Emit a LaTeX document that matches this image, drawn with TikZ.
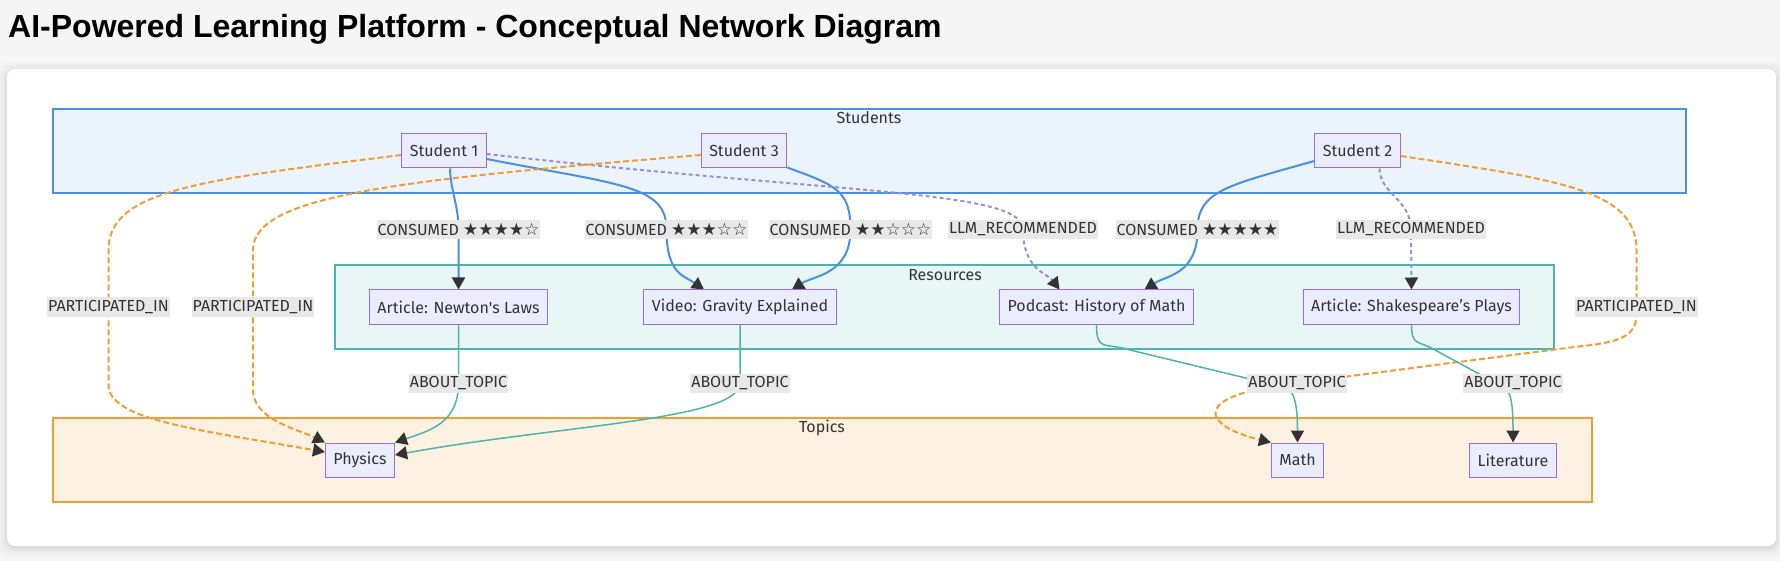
\documentclass[tikz,border=0pt]{standalone}
\usepackage{fontspec}
\setmainfont{Fira Sans}
\newfontfamily\titlefont{Liberation Sans}
\newfontfamily\starfont{DejaVu Sans}
\usetikzlibrary{calc,arrows.meta}

\definecolor{pageGray}{HTML}{F5F5F5}
\definecolor{stuBlue}{HTML}{4A90E2}
\definecolor{stuFill}{HTML}{EBF3FD}
\definecolor{resTeal}{HTML}{4DB3AC}
\definecolor{resFill}{HTML}{E8F6F5}
\definecolor{topOrange}{HTML}{F39C33}
\definecolor{topFill}{HTML}{FDF2E1}
\definecolor{recPurple}{HTML}{9A8FD1}
\definecolor{nodeFill}{HTML}{ECECFF}
\definecolor{nodeLine}{HTML}{9370DB}
\definecolor{labelFill}{HTML}{E8E8E8}
\definecolor{inkGray}{HTML}{333333}

\newcommand{\stars}[1]{{\starfont\fontsize{17}{19}\selectfont #1}}

\pgfdeclarelayer{groups}
\pgfdeclarelayer{edges}
\pgfsetlayers{groups,edges,main}

\tikzset{
  entity/.style={draw=nodeLine, fill=nodeFill, line width=1pt, minimum height=34pt,
    inner xsep=8pt, inner ysep=0pt, text=inkGray, font=\fontsize{16}{19}\selectfont},
  edgelabel/.style={fill=labelFill, inner xsep=1pt, inner ysep=0pt, minimum height=19pt,
    text=inkGray, font=\fontsize{16}{19}\selectfont},
  grouplabel/.style={text=inkGray, inner sep=0pt, font=\fontsize{16}{19}\selectfont},
  arrowtip/.style={-{Triangle[length=12pt,width=13pt,color=inkGray]}},
  consumed/.style={arrowtip, draw=stuBlue, line width=2pt},
  recommended/.style={arrowtip, draw=recPurple, line width=2pt, dash pattern=on 4pt off 3pt},
  participated/.style={arrowtip, draw=topOrange, line width=2pt, dash pattern=on 6pt off 3pt},
  about/.style={arrowtip, draw=resTeal, line width=1.5pt},
}

\begin{document}
\begin{tikzpicture}[x=1pt,y=-1pt]
  \useasboundingbox (0,0) rectangle (1780,561);

  % page, card and the three groups
  \begin{pgfonlayer}{groups}
    \fill[pageGray] (0,0) rectangle (1780,561);
    \foreach \s/\o in {9/0.015, 6/0.02, 3/0.03, 1/0.04}
      \fill[black, opacity=\o, rounded corners=10pt] (7-\s,69-\s+2) rectangle (1776+\s,546+\s+2);
    \fill[white, rounded corners=8pt] (7,69) rectangle (1776,546);
    \draw[stuBlue, fill=stuFill, line width=2pt] (53,109) rectangle (1686,193);
    \draw[resTeal, fill=resFill, line width=2pt] (335,265) rectangle (1554,349);
    \draw[topOrange, fill=topFill, line width=2pt] (53,418) rectangle (1592,502);
  \end{pgfonlayer}

  % title
  \node[anchor=base west, inner sep=0pt, text=black,
    font=\titlefont\bfseries\fontsize{32}{38}\selectfont] (title) at (8,38)
    {AI-Powered Learning Platform - Conceptual Network Diagram};

  % group titles
  \node[grouplabel] (studentsLbl) at (869,118) {Students};
  \node[grouplabel] (resourcesLbl) at (945,275) {Resources};
  \node[grouplabel] (topicsLbl) at (822,428) {Topics};

  % students
  \node[entity] (s1) at (444,151) {Student 1};
  \node[entity] (s3) at (744,151) {Student 3};
  \node[entity] (s2) at (1357.5,151) {Student 2};

  % resources
  \node[entity] (newton) at (458.5,307) {Article: Newton\textquotesingle s Laws};
  \node[entity] (video) at (740,307) {Video: Gravity Explained};
  \node[entity] (podcast) at (1096.5,307) {Podcast: History of Math};
  \node[entity] (shakes) at (1411.5,307) {Article: Shakespeare’s Plays};

  % topics
  \node[entity] (physics) at (360,460) {Physics};
  \node[entity] (math) at (1297.5,460) {Math};
  \node[entity] (lit) at (1513,460) {Literature};

  % edge labels
  \node[edgelabel] (c4) at (458.5,229.5) {CONSUMED \stars{★★★★☆}};
  \node[edgelabel] (c3) at (666.5,229.5) {CONSUMED \stars{★★★☆☆}};
  \node[edgelabel] (c2) at (850.5,229.5) {CONSUMED \stars{★★☆☆☆}};
  \node[edgelabel] (llm1) at (1023,229.5) {LLM\_RECOMMENDED};
  \node[edgelabel] (c5) at (1197.5,229.5) {CONSUMED \stars{★★★★★}};
  \node[edgelabel] (llm2) at (1411,229.5) {LLM\_RECOMMENDED};
  \node[edgelabel] (part1) at (108.5,307) {PARTICIPATED\_IN};
  \node[edgelabel] (part2) at (253,307) {PARTICIPATED\_IN};
  \node[edgelabel] (part3) at (1636.5,307) {PARTICIPATED\_IN};
  \node[edgelabel] (topic1) at (458.5,383) {ABOUT\_TOPIC};
  \node[edgelabel] (topic2) at (740,383) {ABOUT\_TOPIC};
  \node[edgelabel] (topic3) at (1297,383) {ABOUT\_TOPIC};
  \node[edgelabel] (topic4) at (1513,383) {ABOUT\_TOPIC};

  \begin{pgfonlayer}{edges}
    % consumed
    \draw[consumed] ($(s1.south)+(6,0)$) .. controls +(1,25) and +(0,-25) .. (c4.center) -- (newton.north);
    \draw[consumed] ($(s1.east)+(0,8)$) .. controls (620,185) and (666.5,185) .. (c3.center)
      .. controls +(0,45) and +(-20,-14) .. ($(video.north)+(-36,0)$);
    \draw[consumed] ($(s3.south east)+(0,-1)$) .. controls (835,185) and (850.5,190) .. (c2.center)
      .. controls +(0,45) and +(22,-14) .. ($(video.north)+(52,0)$);
    \draw[consumed] ($(s2.west)+(0,10)$) .. controls (1230,185) and (1197.5,190) .. (c5.center)
      .. controls +(0,45) and +(22,-14) .. ($(podcast.north)+(48,0)$);

    % recommended
    \draw[recommended] ($(s1.east)+(0,3)$) .. controls (850,195) and (1023,190) .. (llm1.center)
      .. controls +(0,40) and +(-12,-16) .. ($(podcast.north)+(-37,0)$);
    \draw[recommended] ($(s2.south)+(22,0)$) .. controls +(0,25) and +(0,-30) .. (llm2.center) -- (shakes.north);

    % participated
    \draw[participated] ($(s1.west)+(0,4)$) .. controls (200,180) and (108.5,190) .. (108.5,250)
      -- (part1.center) -- (108.5,385) .. controls (108.5,420) and (200,430) .. ($(physics.west)+(0,-8)$);
    \draw[participated] ($(s3.west)+(0,4)$) .. controls (400,180) and (253,195) .. (253,250)
      -- (part2.center) -- (253,390) .. controls (253,420) and (300,430) .. (physics.north west);
    \draw[participated] ($(s2.east)+(0,5)$) .. controls (1560,180) and (1636.5,190) .. (1636.5,250)
      -- (part3.center) -- (1636.5,315) .. controls (1636.5,345) and (1600,343) .. (1551,350)
      -- (topic3.center) .. controls (1190,395) and (1200,425) .. (math.north west);

    % about topic
    \draw[about] (newton.south) -- (topic1.center) .. controls +(0,40) and +(35,-12) .. (physics.north east);
    \draw[about] (video.south) -- (topic2.center) .. controls (740,420) and (560,425) .. ($(physics.east)+(0,-5)$);
    \draw[about] (podcast.south) .. controls +(0,28) and (1105,342) .. (1130,350)
      -- ($(topic3.center)+(-10,5)$) .. controls +(10,5) and +(0,-25) .. (math.north);
    \draw[about] (shakes.south) .. controls +(0,22) and (1418,340) .. (1435,350)
      -- ($(topic4.center)+(-8,5)$) .. controls +(8,5) and +(0,-25) .. (lit.north);
  \end{pgfonlayer}
\end{tikzpicture}
\end{document}
